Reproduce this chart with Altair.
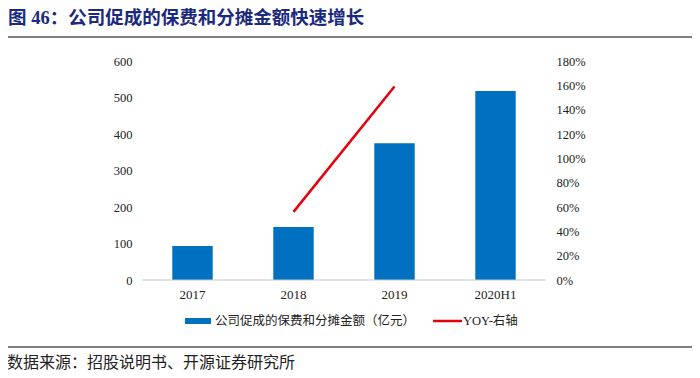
import altair as alt
import pandas as pd

categories = ["2017", "2018", "2019", "2020H1"]
amounts = [93, 145, 375, 518]
yoy_years = ["2018", "2019"]
yoy_values = [0.56, 1.59]

title_text = "图 46：公司促成的保费和分摊金额快速增长"
source_text = "数据来源：招股说明书、开源证券研究所"
legend_bar = "公司促成的保费和分摊金额（亿元）"
legend_line = "YOY-右轴"

SERIF = "Liberation Serif, Noto Sans CJK SC"
CJK = "Noto Sans CJK SC"

bars_df = pd.DataFrame({"year": categories, "amount": amounts})
yoy_df = pd.DataFrame({"year": yoy_years, "yoy": yoy_values})

xenc = alt.X(
    "year:N",
    sort=categories,
    scale=alt.Scale(paddingInner=0.6, paddingOuter=0.3),
    axis=alt.Axis(
        title=None, labelAngle=0, ticks=False, domain=False, grid=False,
        labelFont=SERIF, labelFontSize=13, labelColor="#222", labelPadding=8,
    ),
)

bars = alt.Chart(bars_df).mark_bar(color="#0070C0").encode(
    x=xenc,
    y=alt.Y(
        "amount:Q",
        scale=alt.Scale(domain=[0, 600]),
        axis=alt.Axis(
            title=None, values=[0, 100, 200, 300, 400, 500, 600], grid=False,
            domain=False, ticks=False, labelFont=SERIF, labelFontSize=12.5,
            labelColor="#222", labelPadding=10,
        ),
    ),
)

line = alt.Chart(yoy_df).mark_line(color="#E8000B", strokeWidth=2.5).encode(
    x=alt.X("year:N", sort=categories),
    y=alt.Y(
        "yoy:Q",
        scale=alt.Scale(domain=[0, 1.8]),
        axis=alt.Axis(
            title=None, orient="right", format=".0%",
            values=[0, 0.2, 0.4, 0.6, 0.8, 1.0, 1.2, 1.4, 1.6, 1.8], grid=False,
            domain=False, ticks=False, labelFont=SERIF, labelFontSize=12.5,
            labelColor="#222", labelPadding=10,
        ),
    ),
)

one = pd.DataFrame({"a": [0]})


def text(t, x, y, size, color="#222", font=CJK, weight="normal"):
    return alt.Chart(pd.DataFrame({"t": [t]})).mark_text(
        align="left", baseline="middle", fontSize=size, color=color,
        font=font, fontWeight=weight,
    ).encode(text="t:N", x=alt.value(x), y=alt.value(y))


def hbar(x1, x2, y, color, width):
    return alt.Chart(one).mark_rect(color=color).encode(
        x=alt.value(x1), x2=alt.value(x2),
        y=alt.value(y - width / 2), y2=alt.value(y + width / 2),
    )


title = text(title_text, -134, -43, 18.5, color="#1b2a80", font=SERIF, weight="bold")
title_rule = hbar(-137, 555, -24, "#808080", 2)
bottom_rule = hbar(-137, 553, 286, "#808080", 2)
baseline = hbar(0, 404, 219, "#c8c8c8", 1)
source = text(source_text, -135, 302, 16, color="#222", font=SERIF)

leg_rect = hbar(43, 69, 260, "#0070C0", 6)
leg_text1 = text(legend_bar, 73, 260, 12.5, font=SERIF)
leg_line = hbar(291, 320, 260, "#E8000B", 2.5)
leg_text2 = text(legend_line, 321, 260, 12.5, font=SERIF)

chart = alt.layer(
    bars, line, baseline, title, title_rule, bottom_rule, source,
    leg_rect, leg_text1, leg_line, leg_text2
).resolve_scale(y="independent").properties(
    width=404, height=219,
    background="white",
    autosize=alt.AutoSizeParams(type="none"),
    padding={"left": 134, "top": 53, "right": 146, "bottom": 90},
).configure_view(stroke="transparent", strokeWidth=0)

chart.save("out.html", embed_options={"renderer": "svg", "actions": False})
